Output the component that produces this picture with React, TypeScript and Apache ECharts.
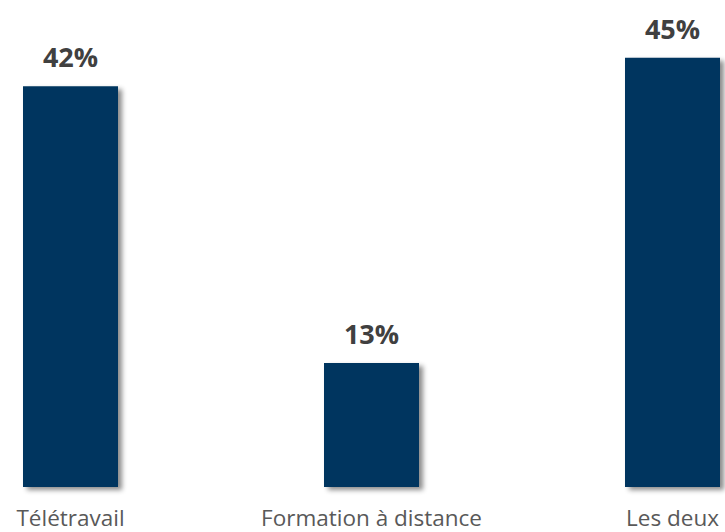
import React, { useEffect, useRef } from "react";
import * as echarts from "echarts";

const categories = ["Télétravail", "Formation à distance", "Les deux"];
const values = [42, 13, 45];

export default function App() {
  const ref = useRef<HTMLDivElement>(null);
  useEffect(() => {
    if (!ref.current) return;
    const chart = echarts.init(ref.current, undefined, { renderer: "svg" });
    chart.setOption({
      animation: false,
      grid: { left: 0, right: 0, top: 10, bottom: 45, containLabel: false },
      xAxis: {
        type: "category",
        data: categories,
        axisLine: { show: false },
        axisTick: { show: false },
        axisLabel: {
          color: "#595959",
          fontSize: 22.5,
          lineHeight: 22,
          fontFamily: "Open Sans",
          margin: 19,
          interval: 0,
        },
      },
      yAxis: {
        type: "value",
        min: 0,
        max: 50,
        show: false,
        splitLine: { show: false },
      },
      series: [
        {
          type: "bar",
          data: values,
          barWidth: 95,
          itemStyle: {
            color: "#02355E",
            shadowColor: "rgba(0,0,0,0.45)",
            shadowBlur: 5,
            shadowOffsetX: 4,
            shadowOffsetY: 3,
          },
          label: {
            show: true,
            position: "top",
            distance: 16,
            formatter: "{c}%",
            color: "#404040",
            fontSize: 27,
            fontWeight: "bold",
            fontFamily: "Open Sans",
          },
        },
      ],
    });
    return () => chart.dispose();
  }, []);
  return (
    <div style={{ position: "absolute", left: 0, top: 0, width: 725, height: 532, overflow: "hidden" }}>
      <div ref={ref} style={{ width: 903, height: 532, position: "absolute", left: -80, top: 0 }} />
    </div>
  );
}
